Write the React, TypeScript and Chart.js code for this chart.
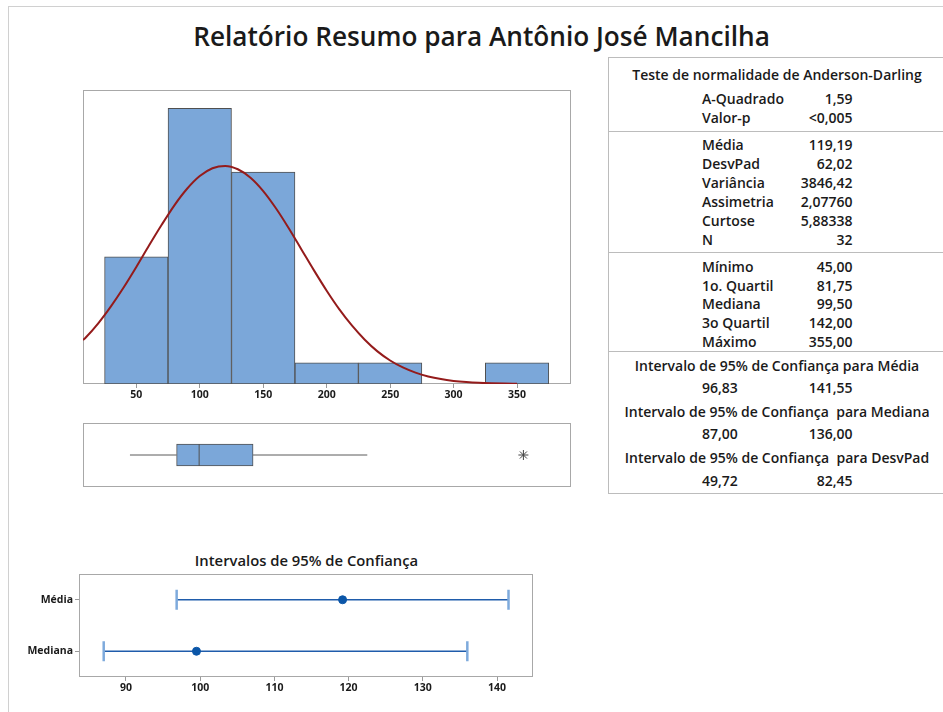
import React, { useEffect, useRef } from 'react';
import { Chart, registerables } from 'chart.js';
Chart.register(...registerables);

const FONT = "'Open Sans', 'Noto Sans', sans-serif";
const TXT = '#1a1a1a';

// ---------- data ----------
const pageTitle = 'Relatório Resumo para Antônio José Mancilha';

const binCenters = [50, 100, 150, 200, 250, 300, 350];
const binCounts = [6, 13, 10, 1, 1, 0, 1];
const histTicks = [50, 100, 150, 200, 250, 300, 350];
const histXMin = 8;
const histXMax = 392.5;
const histYMax = 13.87;

const curveXs = [8, 10, 20, 30, 40, 50, 60, 70, 80, 90, 100, 110, 120, 130, 140, 150, 160, 170, 180, 190, 200, 210, 220, 230, 240, 250, 260, 270, 280, 290, 300, 310, 320, 330, 340, 350];
const curveYs = [2.07, 2.18, 2.86, 3.66, 4.55, 5.52, 6.53, 7.51, 8.43, 9.21, 9.81, 10.18, 10.29, 10.13, 9.73, 9.1, 8.29, 7.36, 6.36, 5.36, 4.4, 3.52, 2.75, 2.09, 1.54, 1.11, 0.78, 0.535, 0.357, 0.232, 0.147, 0.091, 0.054, 0.032, 0.018, 0.01];

const boxWhiskerLow = 45;
const boxQ1 = 81.75;
const boxMedian = 99.5;
const boxQ3 = 142;
const boxWhiskerHigh = 232;
const boxOutliers = [355];

const ciTitle = 'Intervalos de 95% de Confiança';
const ciCategories = ['Média', 'Mediana'];
const ciEstimates = [119.19, 99.5];
const ciLow = [96.83, 87.0];
const ciHigh = [141.55, 136.0];
const ciTicks = [90, 100, 110, 120, 130, 140];
const ciXMin = 83.67;
const ciXMax = 144.85;

const adTitle = 'Teste de normalidade de Anderson-Darling';
const adLabels = ['A-Quadrado', 'Valor-p'];
const adValues = ['1,59', '<0,005'];
const descLabels = ['Média', 'DesvPad', 'Variância', 'Assimetria', 'Curtose', 'N'];
const descValues = ['119,19', '62,02', '3846,42', '2,07760', '5,88338', '32'];
const quantLabels = ['Mínimo', '1o. Quartil', 'Mediana', '3o Quartil', 'Máximo'];
const quantValues = ['45,00', '81,75', '99,50', '142,00', '355,00'];
const intTitles = [
  'Intervalo de 95% de Confiança para Média',
  'Intervalo de 95% de Confiança  para Mediana',
  'Intervalo de 95% de Confiança  para DesvPad',
];
const intLows = ['96,83', '87,00', '49,72'];
const intHighs = ['141,55', '136,00', '82,45'];

// ---------- helpers ----------
const framePlugin = {
  id: 'frame',
  beforeDatasetsDraw(chart: any) {
    const { ctx, chartArea: a } = chart;
    ctx.save();
    ctx.strokeStyle = '#a8a8a8';
    ctx.lineWidth = 1;
    ctx.strokeRect(a.left + 0.5, a.top + 0.5, a.right - a.left - 1, a.bottom - a.top - 1);
    ctx.restore();
  },
};

function ChartCanvas({ make, left, top, w, h }: any) {
  const ref = useRef<HTMLCanvasElement>(null);
  useEffect(() => {
    const c = new Chart(ref.current as HTMLCanvasElement, make());
    return () => c.destroy();
  }, []);
  return (
    <canvas
      ref={ref}
      width={w}
      height={h}
      style={{ position: 'absolute', left, top, width: w, height: h }}
    />
  );
}

function T({ x, y, align = 'left', size = 14, weight = 600, children }: any) {
  const tx = align === 'center' ? '-50%' : align === 'right' ? '-100%' : '0';
  return (
    <div
      style={{
        position: 'absolute',
        left: x,
        top: y,
        transform: `translate(${tx}, -50%)`,
        whiteSpace: 'pre',
        fontFamily: FONT,
        fontSize: size,
        fontWeight: weight,
        color: TXT,
        lineHeight: 1,
      }}
    >
      {children}
    </div>
  );
}

const tickFont = { family: FONT, size: 10.5, weight: 'bold' as any };

function histConfig(): any {
  return {
    type: 'bar',
    data: {
      datasets: [
        {
          type: 'line',
          data: curveXs.map((x, i) => ({ x, y: curveYs[i] })),
          borderColor: '#941b1b',
          borderWidth: 2,
          pointRadius: 0,
          cubicInterpolationMode: 'monotone',
          order: 0,
        },
        {
          type: 'bar',
          data: binCenters.map((x, i) => ({ x, y: binCounts[i] })),
          backgroundColor: '#7ba7d9',
          borderColor: '#505050',
          borderWidth: 1,
          borderSkipped: false,
          barPercentage: 1,
          categoryPercentage: 1,
          order: 1,
        },
      ],
    },
    options: {
      animation: false,
      responsive: false,
      layout: { autoPadding: false, padding: { left: 10, right: 12, top: 10, bottom: 0 } },
      plugins: { legend: { display: false }, tooltip: { enabled: false } },
      scales: {
        x: {
          type: 'linear',
          offset: false,
          min: histXMin,
          max: histXMax,
          afterBuildTicks: (s: any) => {
            s.ticks = histTicks.map((v) => ({ value: v }));
          },
          afterFit: (s: any) => {
            s.height = 26;
          },
          ticks: { font: tickFont, color: TXT, padding: 1, maxRotation: 0 },
          grid: { offset: false, drawOnChartArea: false, drawTicks: true, tickLength: 4, color: '#9a9a9a' },
          border: { display: false },
        },
        y: { display: false, offset: false, min: 0, max: histYMax },
      },
    },
    plugins: [framePlugin],
  };
}

function boxConfig(): any {
  return {
    type: 'bar',
    data: {
      datasets: [
        {
          type: 'line',
          data: [
            { x: boxWhiskerLow, y: 0.5 },
            { x: boxQ1, y: 0.5 },
          ],
          borderColor: '#5a5a5a',
          borderWidth: 1,
          pointRadius: 0,
          order: 3,
        },
        {
          type: 'line',
          data: [
            { x: boxQ3, y: 0.5 },
            { x: boxWhiskerHigh, y: 0.5 },
          ],
          borderColor: '#5a5a5a',
          borderWidth: 1,
          pointRadius: 0,
          order: 3,
        },
        {
          type: 'bar',
          indexAxis: 'y',
          data: [{ y: 0.5, x: [boxQ1, boxQ3] }],
          backgroundColor: '#7ba7d9',
          borderColor: '#505050',
          borderWidth: 1,
          borderSkipped: false,
          barThickness: 22,
          order: 2,
        },
        {
          type: 'scatter',
          data: [{ x: boxMedian, y: 0.5 }],
          pointStyle: 'line',
          rotation: 90,
          pointRadius: 11,
          borderColor: '#505050',
          borderWidth: 1,
          order: 0,
        },
        {
          type: 'scatter',
          data: boxOutliers.map((x) => ({ x, y: 0.5 })),
          pointStyle: 'star',
          pointRadius: 5,
          borderColor: '#444',
          borderWidth: 1,
          order: 0,
        },
      ],
    },
    options: {
      animation: false,
      responsive: false,
      layout: { autoPadding: false, padding: { left: 10, right: 12, top: 8, bottom: 8 } },
      plugins: { legend: { display: false }, tooltip: { enabled: false } },
      scales: {
        x: { type: 'linear', offset: false, display: false, min: histXMin, max: histXMax },
        y: { type: 'linear', offset: false, display: false, min: 0, max: 1 },
      },
    },
    plugins: [framePlugin],
  };
}

function ciConfig(): any {
  const intervals = ciCategories.map((c, i) => ({
    type: 'line',
    data: [
      { x: ciLow[i], y: c },
      { x: ciHigh[i], y: c },
    ],
    borderColor: '#1f5cab',
    borderWidth: 1.5,
    pointStyle: 'line',
    pointRotation: 90,
    pointRadius: 10,
    pointBorderColor: '#7eaadc',
    pointBorderWidth: 2.5,
    order: 1,
  }));
  return {
    type: 'line',
    data: {
      labels: ciCategories,
      datasets: [
        ...intervals,
        {
          type: 'line',
          showLine: false,
          data: ciCategories.map((c, i) => ({ x: ciEstimates[i], y: c })),
          pointRadius: 4,
          pointBackgroundColor: '#0b56a8',
          pointBorderColor: '#0b56a8',
          pointBorderWidth: 1,
          order: 0,
        },
      ],
    },
    options: {
      animation: false,
      responsive: false,
      layout: { autoPadding: false, padding: { left: 0, right: 17, top: 9, bottom: 0 } },
      plugins: { legend: { display: false }, tooltip: { enabled: false } },
      scales: {
        x: {
          type: 'linear',
          offset: false,
          min: ciXMin,
          max: ciXMax,
          afterBuildTicks: (s: any) => {
            s.ticks = ciTicks.map((v) => ({ value: v }));
          },
          afterFit: (s: any) => {
            s.height = 23;
          },
          ticks: { font: tickFont, color: TXT, padding: 1, maxRotation: 0 },
          grid: { drawOnChartArea: false, drawTicks: true, tickLength: 4, color: '#9a9a9a' },
          border: { display: false },
        },
        y: {
          type: 'category',
          labels: ciCategories,
          offset: true,
          afterFit: (s: any) => {
            s.width = 69;
          },
          ticks: { font: tickFont, color: TXT, padding: 2 },
          grid: { drawOnChartArea: false, drawTicks: true, tickLength: 4, color: '#9a9a9a', offset: false },
          border: { display: false },
        },
      },
    },
    plugins: [framePlugin],
  };
}

export default function App() {
  const labelX = 702;
  const valueX = 852.5;
  return (
    <div
      style={{
        position: 'absolute',
        left: 0,
        top: 0,
        width: 943,
        height: 712,
        overflow: 'hidden',
        background: '#fff',
      }}
    >
      {/* page frame */}
      <div
        style={{
          position: 'absolute',
          left: 8,
          top: 6,
          width: 1000,
          height: 800,
          borderLeft: '1px solid #d0d0d0',
          borderTop: '1px solid #d0d0d0',
        }}
      />
      <T x={481.5} y={36} align="center" size={26.2} weight={600}>
        {pageTitle}
      </T>

      <ChartCanvas make={histConfig} left={73} top={80} w={510} h={330} />
      <ChartCanvas make={boxConfig} left={73} top={415} w={510} h={80} />

      <T x={306.5} y={560} align="center" size={14.8} weight={600}>
        {ciTitle}
      </T>
      <ChartCanvas make={ciConfig} left={10} top={565} w={540} h={135} />

      {/* statistics table */}
      <div
        style={{
          position: 'absolute',
          left: 608,
          top: 57,
          width: 400,
          height: 437,
          border: '1px solid #bcbcbc',
          boxSizing: 'border-box',
        }}
      />
      {[131, 252, 351].map((y) => (
        <div
          key={y}
          style={{ position: 'absolute', left: 608, top: y, width: 400, height: 1, background: '#bcbcbc' }}
        />
      ))}
      <T x={777} y={75} align="center" size={14}>
        {adTitle}
      </T>
      {adLabels.map((l, i) => (
        <React.Fragment key={l}>
          <T x={labelX} y={98.5 + i * 19}>{l}</T>
          <T x={valueX} y={98.5 + i * 19} align="right">{adValues[i]}</T>
        </React.Fragment>
      ))}
      {descLabels.map((l, i) => (
        <React.Fragment key={l}>
          <T x={labelX} y={145 + i * 19}>{l}</T>
          <T x={valueX} y={145 + i * 19} align="right">{descValues[i]}</T>
        </React.Fragment>
      ))}
      {quantLabels.map((l, i) => (
        <React.Fragment key={l}>
          <T x={labelX} y={266.8 + i * 18.75}>{l}</T>
          <T x={valueX} y={266.8 + i * 18.75} align="right">{quantValues[i]}</T>
        </React.Fragment>
      ))}
      {intTitles.map((t, i) => (
        <React.Fragment key={t}>
          <T x={777} y={365.7 + i * 46.3} align="center" size={14}>{t}</T>
          <T x={labelX} y={387.7 + i * 46.6}>{intLows[i]}</T>
          <T x={valueX} y={387.7 + i * 46.6} align="right">{intHighs[i]}</T>
        </React.Fragment>
      ))}
    </div>
  );
}
